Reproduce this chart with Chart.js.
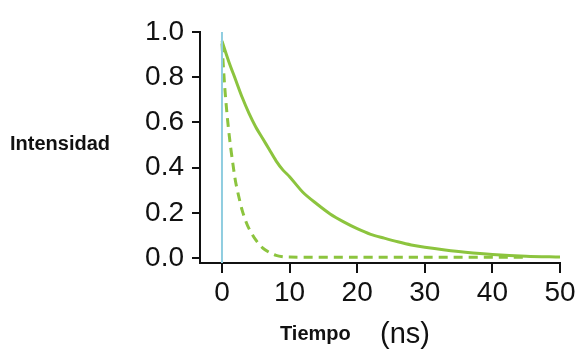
<!DOCTYPE html>
<html>
<head>
<meta charset="utf-8">
<script src="https://cdn.jsdelivr.net/npm/chart.js@4/dist/chart.umd.min.js"></script>
<style>
html,body{margin:0;padding:0;background:#fff;}
#wrap{position:relative;width:580px;height:351px;}
</style>
</head>
<body>
<div id="wrap"><canvas id="c" width="580" height="351"></canvas></div>
<script>
// Data
const xTicks = [0, 10, 20, 30, 40, 50];
const yTicks = [0.0, 0.2, 0.4, 0.6, 0.8, 1.0];

const slowTime = [0, 1, 2, 3, 4, 5, 6, 7, 8, 9, 10, 12, 14, 16, 18, 20, 22, 24, 26, 28, 30, 33, 36, 40, 45, 50];
const slowIntensity = [0.96, 0.87, 0.79, 0.71, 0.64, 0.58, 0.53, 0.48, 0.43, 0.39, 0.36, 0.29, 0.24, 0.195, 0.16, 0.13, 0.105, 0.088, 0.072, 0.058, 0.048, 0.036, 0.026, 0.016, 0.008, 0.004];

const fastTime = [0, 0.4, 0.8, 1.2, 1.6, 2, 2.5, 3, 3.5, 4, 5, 6, 7, 8, 9, 10, 20, 30, 45];
const fastIntensity = [0.95, 0.76, 0.62, 0.51, 0.42, 0.34, 0.27, 0.21, 0.165, 0.13, 0.08, 0.045, 0.025, 0.012, 0.006, 0.004, 0.003, 0.003, 0.003];

const pulseTime = [0, 0];
const pulseIntensity = [1.0, -0.022];

const green = '#8cc43e';
const FONT = '"Liberation Sans", Arial, sans-serif';
const toPts = (xs, ys) => xs.map((x, i) => ({x: x, y: ys[i]}));

const textPlugin = {
  id: 'labels',
  afterDraw(chart) {
    const ctx = chart.ctx;
    ctx.save();
    ctx.fillStyle = '#111';
    ctx.textBaseline = 'alphabetic';
    ctx.textAlign = 'left';
    ctx.font = 'bold 20px ' + FONT;
    ctx.fillText('Intensidad', 10, 150);
    ctx.fillText('Tiempo', 280, 340);
    ctx.font = '29px ' + FONT;
    ctx.fillText('(ns)', 380, 343);
    ctx.restore();
  }
};

new Chart(document.getElementById('c'), {
  type: 'scatter',
  data: {
    datasets: [
      {
        data: toPts(pulseTime, pulseIntensity),
        showLine: true, borderColor: '#8fcde0', borderWidth: 2,
        pointRadius: 0, tension: 0
      },
      {
        data: toPts(slowTime, slowIntensity),
        showLine: true, borderColor: green, borderWidth: 3,
        pointRadius: 0, tension: 0.3
      },
      {
        data: toPts(fastTime, fastIntensity),
        showLine: true, borderColor: green, borderWidth: 3,
        borderDash: [9, 6], pointRadius: 0, tension: 0.3
      }
    ]
  },
  options: {
    responsive: false,
    animation: false,
    layout: {padding: {top: 32, right: 20, left: 0, bottom: 0}},
    plugins: {legend: {display: false}, tooltip: {enabled: false}},
    scales: {
      x: {
        type: 'linear', min: -3.25, max: 50,
        afterBuildTicks: s => { s.ticks = xTicks.map(v => ({value: v})); },
        afterFit: s => { s.height = 88; },
        grid: {display: true, drawOnChartArea: false, drawTicks: true, tickLength: 10, color: '#111', lineWidth: 2},
        border: {display: true, color: '#111', width: 2},
        ticks: {color: '#111', padding: 3, maxRotation: 0, autoSkip: false,
          font: {size: 28, family: FONT},
          callback: v => String(v)}
      },
      y: {
        type: 'linear', min: -0.022, max: 1.0,
        afterBuildTicks: s => { s.ticks = yTicks.map(v => ({value: v})); },
        afterFit: s => { s.width = 200; },
        grid: {display: true, drawOnChartArea: false, drawTicks: true, tickLength: 8, color: '#111', lineWidth: 2},
        border: {display: true, color: '#111', width: 2},
        ticks: {color: '#111', padding: 8, autoSkip: false,
          font: {size: 28, family: FONT},
          callback: v => v.toFixed(1)}
      }
    }
  },
  plugins: [textPlugin]
});
</script>
</body>
</html>
